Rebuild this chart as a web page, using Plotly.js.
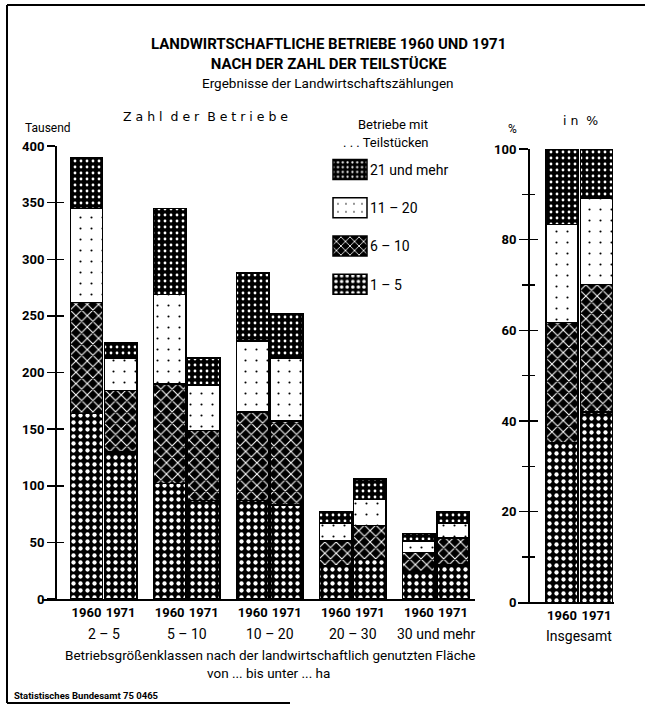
<!DOCTYPE html>
<html>
<head>
<meta charset="utf-8">
<script src="https://cdn.plot.ly/plotly-3.0.1.min.js"></script>
<style>html,body{margin:0;padding:0;background:#fff;}#chart{width:645px;height:706px;}</style>
</head>
<body>
<div id="chart"></div>
<script>
// ---- data ----
const groups = ['2 – 5', '5 – 10', '10 – 20', '20 – 30', '30 und mehr'];
const years = ['1960', '1971'];
const classNames = ['1 – 5', '6 – 10', '11 – 20', '21 und mehr'];
// thousands of farms, by size class (groups) and number of plots
const c1to5_1960   = [164, 102, 87, 29, 24];
const c6to10_1960  = [98, 88, 78, 22, 17];
const c11to20_1960 = [83, 79, 63, 16, 10];
const c21plus_1960 = [45, 76, 60, 10, 7];
const c1to5_1971   = [130, 87, 83, 35, 30];
const c6to10_1971  = [54, 62, 74, 30, 24];
const c11to20_1971 = [29, 40, 56, 23, 13];
const c21plus_1971 = [13, 24, 39, 18, 10];
// percent of all farms ("Insgesamt"), order: 1-5, 6-10, 11-20, 21+
const pct1960 = [35.2, 26.5, 21.7, 16.6];
const pct1971 = [42.0, 28.1, 19.0, 10.9];

const FONT = 'Roboto, Liberation Sans, sans-serif';
const W = 645, H = 706;
const px = v => v / W;
const py = v => 1 - v / H;

const patterns = [
  {shape: '.', bgcolor: '#000', fgcolor: '#fff', size: 7, solidity: 0.3, fillmode: 'replace'},
  {shape: 'x', bgcolor: '#000', fgcolor: '#fff', size: 8, solidity: 0.25, fillmode: 'replace'},
  {shape: '.', bgcolor: '#fff', fgcolor: '#000', size: 11, solidity: 0.03, fillmode: 'replace'},
  {shape: '.', bgcolor: '#000', fgcolor: '#fff', size: 6, solidity: 0.17, fillmode: 'replace'}
];
const s1960 = [c1to5_1960, c6to10_1960, c11to20_1960, c21plus_1960];
const s1971 = [c1to5_1971, c6to10_1971, c11to20_1971, c21plus_1971];

const OFF = 0.205;
const xpos = [], xtext = [];
groups.forEach((g, i) => { xpos.push(i - OFF, i + OFF); xtext.push(years[0], years[1]); });

const traces = [];
classNames.forEach((name, k) => {
  const yv = [];
  groups.forEach((g, i) => { yv.push(s1960[k][i], s1971[k][i]); });
  traces.push({
    type: 'bar', x: xpos, y: yv, width: 0.39, name: name,
    legendgroup: 'g' + k, legendrank: 100 - k * 10,
    marker: {color: patterns[k].bgcolor, pattern: patterns[k], line: {color: '#000', width: 1.5}},
    xaxis: 'x', yaxis: 'y', hoverinfo: 'skip'
  });
  traces.push({
    type: 'bar', x: [0, 1], y: [pct1960[k], pct1971[k]], width: 0.93, name: name,
    legendgroup: 'g' + k, showlegend: false,
    marker: {color: patterns[k].bgcolor, pattern: patterns[k], line: {color: '#000', width: 1.5}},
    xaxis: 'x2', yaxis: 'y2', hoverinfo: 'skip'
  });
});
// carriers for the inside-tick overlay axes
traces.push({type: 'scatter', x: [null], y: [null], xaxis: 'x', yaxis: 'y3', showlegend: false, hoverinfo: 'skip'});
traces.push({type: 'scatter', x: [null], y: [null], xaxis: 'x2', yaxis: 'y4', showlegend: false, hoverinfo: 'skip'});

const tickFont = {family: FONT, size: 13, color: '#000', weight: 'bold'};
const annFont = (s, b) => ({family: FONT, size: s, color: '#000', weight: b ? 'bold' : 'normal'});

const annotations = [
  {text: 'LANDWIRTSCHAFTLICHE BETRIEBE 1960 UND 1971<br>NACH DER ZAHL DER TEILSTÜCKE', x: px(329), y: py(54), font: annFont(15, true)},
  {text: 'Ergebnisse der Landwirtschaftszählungen', x: px(328), y: py(83), font: annFont(13.5, false)},
  {text: 'Z a h l  d e r  B e t r i e b e', x: px(205), y: py(117), font: {family: 'DejaVu Sans, sans-serif', size: 12.5, color: '#000'}},
  {text: 'Tausend', x: px(48), y: py(128), font: annFont(12, false)},
  {text: 'i n  %', x: px(580), y: py(120), font: {family: 'DejaVu Sans, sans-serif', size: 12.5, color: '#000'}},
  {text: '%', x: px(512), y: py(129), font: annFont(12, false)},
  {text: 'Betriebe mit', x: px(393), y: py(124), font: annFont(13, false)},
  {text: '. . . Teilstücken', x: px(386), y: py(142), font: annFont(13, false)},
  {text: 'Betriebsgrößenklassen nach der landwirtschaftlich genutzten Fläche', x: px(270), y: py(655), font: annFont(13.5, false)},
  {text: 'von ... bis unter ... ha', x: px(268), y: py(673), font: annFont(13.5, false)},
  {text: 'Statistisches Bundesamt 75 0465', x: px(12), y: py(695), xanchor: 'left', font: annFont(9.5, true)},
  {text: 'Insgesamt', x: 0.5, xref: 'x2', y: py(636), font: annFont(14, false)}
];
groups.forEach((g, i) => {
  annotations.push({text: g, x: i, xref: 'x', y: py(634), font: annFont(14, false)});
});
annotations.forEach(a => {
  if (!a.xref) a.xref = 'paper';
  a.yref = 'paper'; a.showarrow = false;
  if (!a.xanchor) a.xanchor = 'center';
  a.yanchor = 'middle';
});

const line = (x0, y0, x1, y1) => ({type: 'line', xref: 'paper', yref: 'paper', x0: px(x0), y0: py(y0), x1: px(x1), y1: py(y1), line: {color: '#000', width: 2}});

const layout = {
  width: W, height: H,
  margin: {l: 0, r: 0, t: 0, b: 0},
  paper_bgcolor: '#fff', plot_bgcolor: 'rgba(0,0,0,0)',
  barmode: 'stack', bargap: 0,
  showlegend: true,
  legend: {x: px(330), y: py(154), xanchor: 'left', yanchor: 'top', traceorder: 'grouped',
           tracegroupgap: 17, bgcolor: 'rgba(0,0,0,0)', font: {family: FONT, size: 14, color: '#000'}},
  xaxis: {domain: [px(42), px(475)], range: [-0.741, 4.47], tickvals: xpos, ticktext: xtext, tickangle: 0,
          showgrid: false, zeroline: false, showline: true, linewidth: 2, linecolor: '#000',
          ticks: '', tickfont: tickFont, anchor: 'y', fixedrange: true},
  yaxis: {domain: [py(599), py(146)], range: [0, 400], dtick: 50, anchor: 'free', position: px(55),
          showgrid: false, zeroline: false, showline: true, linewidth: 1.5, linecolor: '#000',
          ticks: 'outside', ticklen: 8, tickwidth: 1.5, tickcolor: '#000', tickfont: tickFont, fixedrange: true},
  yaxis3: {overlaying: 'y', range: [0, 400], dtick: 50, anchor: 'free', position: px(55),
           showgrid: false, zeroline: false, showline: false, showticklabels: false,
           ticks: 'inside', ticklen: 8, tickwidth: 1.5, tickcolor: '#000'},
  xaxis2: {domain: [px(518), px(614)], range: [-1.275, 1.507], tickvals: [0, 1], ticktext: years, tickangle: 0,
           showgrid: false, zeroline: false, showline: true, linewidth: 2, linecolor: '#000',
           ticks: '', tickfont: tickFont, anchor: 'y2', fixedrange: true},
  yaxis2: {domain: [py(602.3), py(149)], range: [0, 100], dtick: 20, anchor: 'free', position: px(528),
           showgrid: false, zeroline: false, showline: true, linewidth: 1.5, linecolor: '#000',
           ticks: 'outside', ticklen: 9, tickwidth: 1.5, tickcolor: '#000', tickfont: tickFont,
           minor: {dtick: 10, ticks: 'outside', ticklen: 6, tickwidth: 1.2, tickcolor: '#000'}, fixedrange: true},
  yaxis4: {overlaying: 'y2', range: [0, 100], dtick: 20, anchor: 'free', position: px(528),
           showgrid: false, zeroline: false, showline: false, showticklabels: false,
           ticks: 'inside', ticklen: 9, tickwidth: 1.5, tickcolor: '#000',
           minor: {dtick: 10, ticks: 'inside', ticklen: 6, tickwidth: 1.2, tickcolor: '#000'}},
  annotations: annotations,
  shapes: [line(7, 5, 645, 5), line(7, 5, 7, 703), line(7, 703, 290, 703)]
};

Plotly.newPlot('chart', traces, layout, {staticPlot: true, displayModeBar: false}).then(gd => {
  gd.querySelectorAll('.legend .legendpoints path').forEach(p => {
    p.setAttribute('d', 'M17,10H-17V-10H17Z');
  });
});
</script>
</body>
</html>
